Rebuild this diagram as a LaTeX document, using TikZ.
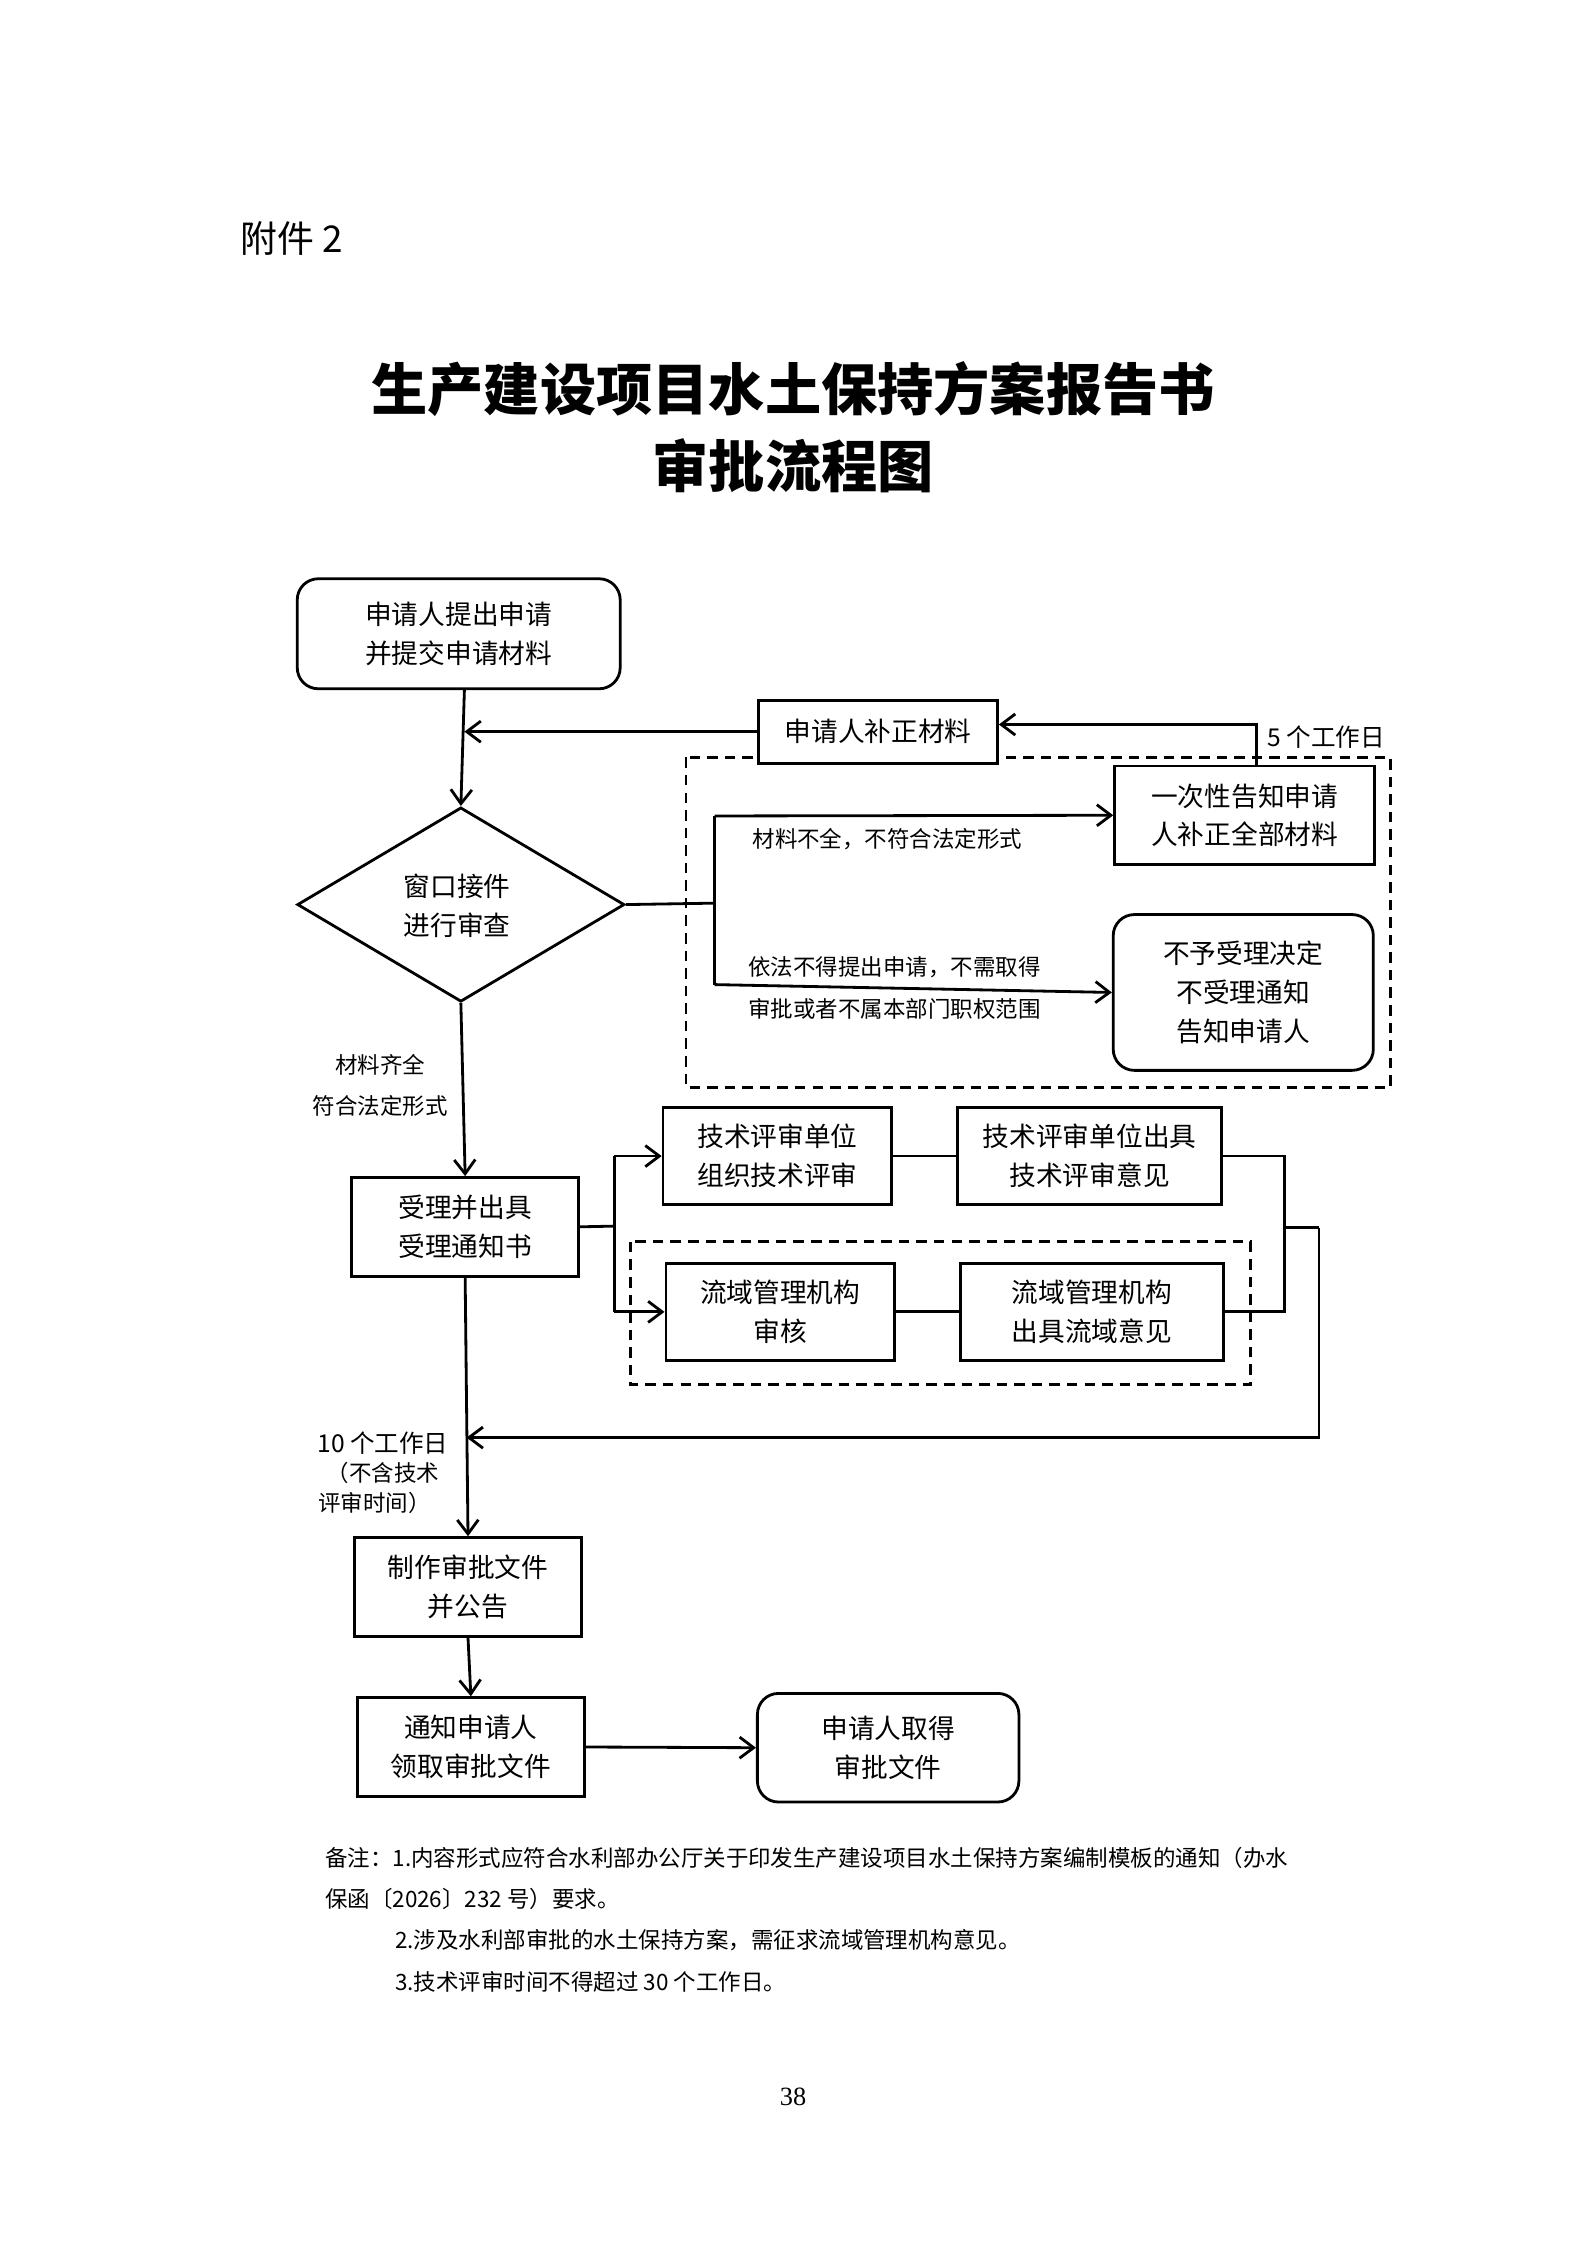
\documentclass[tikz,border=0pt]{standalone}
\usepackage{fontspec}
\setmainfont{Liberation Serif}
\newfontfamily\cjk{Noto Sans CJK SC}
\usetikzlibrary{shapes.geometric,arrows.meta}
\begin{document}
\begin{tikzpicture}[x=0.01429cm,y=-0.01429cm,
 every node/.style={font=\cjk\fontsize{7.6}{11}\selectfont,align=center,inner sep=0pt},
 box/.style={draw,line width=0.8pt},
 rbox/.style={draw,line width=0.8pt,rounded corners=6pt},
 lbl/.style={font=\cjk\fontsize{6.4}{9}\selectfont},
 ln/.style={line width=0.8pt},
 arr/.style={line width=0.8pt,-{Straight Barb[length=4pt,width=6pt]}},
 dbox/.style={line width=0.8pt,dash pattern=on 3pt off 2pt}]
\useasboundingbox (0,0) rectangle (1110,1571);
\node[anchor=west,font=\cjk\fontsize{10.5}{12}\selectfont] (att) at (168,167) {附件 2};
\node[font=\cjk\bfseries\fontsize{16}{22}\selectfont] (t1) at (555,272) {生产建设项目水土保持方案报告书};
\node[font=\cjk\bfseries\fontsize{16}{22}\selectfont] (t2) at (555,326) {审批流程图};
\draw[dbox] (480,530) rectangle (973,761);
\draw[dbox] (441,869) rectangle (875,969);
\node[rbox,minimum width=226*0.01429cm,minimum height=77*0.01429cm] (A) at (321,443.5) {申请人提出申请\\并提交申请材料};
\coordinate (Ab) at (325,482);
\node[box,fill=white,minimum width=167*0.01429cm,minimum height=44*0.01429cm] (B) at (614.5,512) {申请人补正材料};
\node[box,minimum width=182*0.01429cm,minimum height=69*0.01429cm] (C) at (871,570.5) {一次性告知申请\\人补正全部材料};
\node[rbox,minimum width=182*0.01429cm,minimum height=109*0.01429cm] (D) at (870,694.5) {不予受理决定\\不受理通知\\告知申请人};
\node[draw,line width=0.8pt,diamond,aspect=1.68,minimum width=229*0.01429cm,minimum height=136*0.01429cm] (W) at (322.5,633) {};
\node (Wt) at (320,634) {窗口接件\\进行审查};
\node[box,minimum width=159*0.01429cm,minimum height=69*0.01429cm] (E) at (325.5,858.5) {受理并出具\\受理通知书};
\node[box,minimum width=160*0.01429cm,minimum height=68*0.01429cm] (F) at (544,809) {技术评审单位\\组织技术评审};
\node[box,minimum width=185*0.01429cm,minimum height=68*0.01429cm] (H) at (762.5,809) {技术评审单位出具\\技术评审意见};
\node[box,minimum width=160*0.01429cm,minimum height=68*0.01429cm] (G) at (546,918) {流域管理机构\\审核};
\node[box,minimum width=184*0.01429cm,minimum height=68*0.01429cm] (I) at (764,918) {流域管理机构\\出具流域意见};
\node[box,minimum width=159*0.01429cm,minimum height=69*0.01429cm] (J) at (327.5,1110.5) {制作审批文件\\并公告};
\node[box,minimum width=159*0.01429cm,minimum height=69*0.01429cm] (K) at (329.5,1222.5) {通知申请人\\领取审批文件};
\node[rbox,minimum width=183*0.01429cm,minimum height=76*0.01429cm] (L) at (621.5,1223) {申请人取得\\审批文件};
% connectors
\draw[arr] (Ab) -- (W.north);
\draw[arr] (B.west) -- (325,512);
\coordinate (jn) at (500,632);
\draw[ln] (W.east) -- (jn);
\draw[ln] (500,571) -- (500,689);
\draw[arr] (500,571) -- (C.west);
\draw[arr] (500,689) -- (D.west);
\node[lbl] at (621,587) {材料不全，不符合法定形式};
\node[lbl] at (626,677) {依法不得提出申请，不需取得};
\node[lbl] at (626,706) {审批或者不属本部门职权范围};
\draw[arr] (879,536) -- (879,507) -- (B.east|-0,507);
\node[lbl,font=\cjk\fontsize{7}{9}\selectfont] at (928,516) {5 个工作日};
\draw[arr] (W.south) -- (E.north);
\node[lbl] at (266,745) {材料齐全};
\node[lbl] at (266,774) {符合法定形式};
\draw[ln] (E.east) -- (430,858);
\draw[ln] (430,809) -- (430,918);
\draw[arr] (430,809) -- (F.west);
\draw[arr] (430,918) -- (G.west);
\draw[ln] (F.east) -- (H.west);
\draw[ln] (G.east) -- (I.west);
\draw[ln] (H.east) -- (899,809) -- (899,918) -- (I.east);
\draw[ln] (899,859) -- (923,859);
\draw[arr] (923,859) -- (923,1006) -- (326.5,1006);
\draw[arr] (E.south) -- (J.north);
\node[lbl,font=\cjk\fontsize{7}{9}\selectfont] at (268,1010) {10 个工作日};
\node[lbl] at (268,1031) {（不含技术};
\node[lbl] at (262,1052) {评审时间）};
\draw[arr] (J.south) -- (K.north);
\draw[arr] (K.east) -- (L.west);
\node[lbl,anchor=west] at (227,1300) {备注：1.内容形式应符合水利部办公厅关于印发生产建设项目水土保持方案编制模板的通知（办水};
\node[lbl,anchor=west] at (227,1329) {保函〔2026〕232 号）要求。};
\node[lbl,anchor=west] at (276,1358) {2.涉及水利部审批的水土保持方案，需征求流域管理机构意见。};
\node[lbl,anchor=west] at (276,1387) {3.技术评审时间不得超过 30 个工作日。};
\node[font=\fontsize{7.5}{9}\selectfont] at (555,1467) {38};
\end{tikzpicture}
\end{document}
